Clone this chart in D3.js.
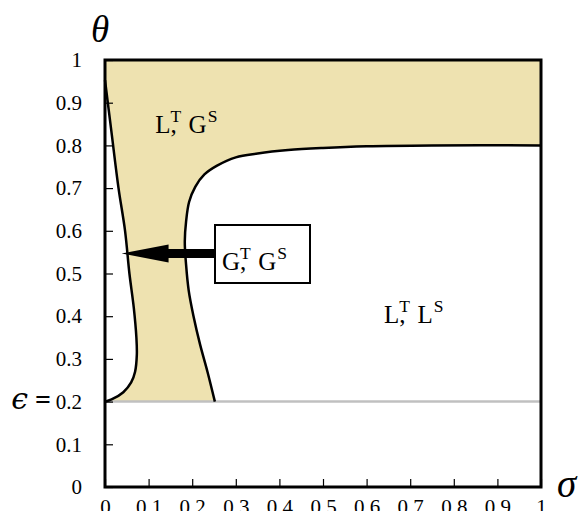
<!DOCTYPE html>
<html>
<head>
<meta charset="utf-8">
<script src="https://cdn.jsdelivr.net/npm/d3@7"></script>
<style>
  body { margin: 0; background: #fff; }
  text { font-family: "Liberation Serif", "DejaVu Serif", serif; fill: #000; }
</style>
</head>
<body>
<div id="chart"></div>
<script>
// phase boundaries, [sigma, theta]
const rightBoundary = [
    [1, 0.8], [0.75, 0.8], [0.6, 0.798], [0.5, 0.794], [0.42, 0.789],
    [0.35, 0.781], [0.3, 0.772], [0.256, 0.752], [0.228, 0.732], [0.207, 0.703],
    [0.193, 0.668], [0.186, 0.622], [0.183, 0.575], [0.186, 0.52], [0.192, 0.46],
    [0.203, 0.4], [0.218, 0.334], [0.235, 0.27], [0.252, 0.2]
];
const leftBoundary = [
    [0, 0.2], [0.015, 0.205], [0.042, 0.222], [0.06, 0.245], [0.069, 0.27],
    [0.073, 0.31], [0.072, 0.35], [0.066, 0.42], [0.056, 0.5], [0.046, 0.6],
    [0.031, 0.7], [0.015, 0.83], [0, 0.953]
];
const epsilon = 0.2;
const ticks = [0, 0.1, 0.2, 0.3, 0.4, 0.5, 0.6, 0.7, 0.8, 0.9, 1];

// region labels: [sigma, theta] of the baseline start
const regionLabels = [
    { at: [0.115, 0.83], parts: [['L', 'T'], ['G', 'S']] },
    { at: [0.64, 0.385], parts: [['L', 'T'], ['L', 'S']] }
];
const boxLabel = { parts: [['G', 'T'], ['G', 'S']] };
const arrow = { from: [0.253, 0.547], to: [0.038, 0.547] };

const width = 582, height = 511;
const x = d3.scaleLinear().domain([0, 1]).range([105, 541]);
const y = d3.scaleLinear().domain([0, 1]).range([487, 60]);

const svg = d3.select('#chart').append('svg')
    .attr('width', width)
    .attr('height', height);

const curve = d3.line()
    .x(d => x(d[0]))
    .y(d => y(d[1]))
    .curve(d3.curveCatmullRom.alpha(0.5));

// shaded L^T,G^S region
const rightPath = curve(rightBoundary);
const leftPath = curve(leftBoundary);
const fillPath = `M${x(0)},${y(1)}L${x(1)},${y(1)}L` + rightPath.slice(1) +
    'L' + leftPath.slice(1) + 'Z';
svg.append('path')
    .attr('d', fillPath)
    .style('fill', '#eee2b0')
    .style('stroke', 'none');

// epsilon line
svg.append('line')
    .attr('x1', x(0)).attr('x2', x(1))
    .attr('y1', y(epsilon)).attr('y2', y(epsilon))
    .style('stroke', '#c0c0c0')
    .style('stroke-width', 2.5);

// boundaries
[rightBoundary, leftBoundary].forEach(b => {
    svg.append('path')
        .attr('d', curve(b))
        .style('fill', 'none')
        .style('stroke', '#000')
        .style('stroke-width', 2.5);
});

// axes
const fmt = d => String(+d.toFixed(1));
const yAxis = d3.axisLeft(y)
    .tickValues(ticks)
    .tickSize(-8)
    .tickPadding(23)
    .tickFormat(fmt);
const gy = svg.append('g').attr('transform', `translate(${x(0)},0)`).call(yAxis);

const xAxis = d3.axisBottom(x)
    .tickValues(ticks)
    .tickSize(-8)
    .tickPadding(12)
    .tickFormat(fmt);
const gx = svg.append('g').attr('transform', `translate(0,${y(0)})`).call(xAxis);

[gx, gy].forEach(g => {
    g.attr('font-family', null);
    g.select('.domain').remove();
    g.selectAll('.tick line').style('stroke', '#000').style('stroke-width', 1.2);
    g.selectAll('.tick text')
        .style('font-family', '"Liberation Serif", serif')
        .style('font-size', '21px')
        .style('fill', '#000');
});

// frame
svg.append('rect')
    .attr('x', x(0)).attr('y', y(1))
    .attr('width', x(1) - x(0))
    .attr('height', y(0) - y(1))
    .style('fill', 'none')
    .style('stroke', '#000')
    .style('stroke-width', 3);

// epsilon label next to 0.2
const eps = svg.append('text')
    .attr('x', 51)
    .attr('y', y(epsilon) + 7)
    .attr('text-anchor', 'end');
eps.append('tspan')
    .text('\u03F5')
    .style('font-family', '"DejaVu Serif", serif')
    .style('font-style', 'italic')
    .style('font-size', '30px');
eps.append('tspan')
    .text(' =')
    .style('font-size', '28px')
    .style('font-weight', 'bold');

// axis titles
svg.append('text')
    .attr('x', 91).attr('y', 42)
    .style('font-style', 'italic')
    .style('font-size', '37px')
    .text('\u03B8');
svg.append('text')
    .attr('x', 557).attr('y', 497)
    .style('font-style', 'italic')
    .style('font-size', '39px')
    .text('\u03C3');

// label with a superscript stacked over the comma
function supLabel(g, px, py, parts, size) {
    const supSize = size * 0.7;
    const rise = size * 0.44;
    const commaW = size * 0.25;
    const t = g.append('text').attr('x', px).attr('y', py).style('font-size', size + 'px');
    parts.forEach((p, i) => {
        t.append('tspan').text(p[0])
            .attr('dy', i ? rise : 0)
            .attr('dx', i ? size * 0.3 : 0);
        if (i < parts.length - 1) {
            t.append('tspan').text(',');
            t.append('tspan').text(p[1])
                .attr('dx', -commaW)
                .attr('dy', -rise)
                .style('font-size', supSize + 'px');
        } else {
            t.append('tspan').text(p[1])
                .attr('dx', size * 0.04)
                .attr('dy', -rise)
                .style('font-size', supSize + 'px');
        }
    });
    return t;
}

regionLabels.forEach(l => {
    supLabel(svg, x(l.at[0]), y(l.at[1]), l.parts, 25);
});

// arrow
const ax0 = x(arrow.from[0]), ax1 = x(arrow.to[0]), ay = y(arrow.from[1]);
svg.append('path')
    .attr('d', `M${ax0},${ay - 4.5}L${ax1 + 47},${ay - 4.5}L${ax1 + 47},${ay - 9}` +
        `L${ax1},${ay}L${ax1 + 47},${ay + 9}L${ax1 + 47},${ay + 4.5}L${ax0},${ay + 4.5}Z`)
    .style('fill', '#000');

// boxed label
svg.append('rect')
    .attr('x', 215).attr('y', 225)
    .attr('width', 95).attr('height', 58)
    .style('fill', '#fff')
    .style('stroke', '#000')
    .style('stroke-width', 2);
supLabel(svg, 222, 270, boxLabel.parts, 25);
</script>
</body>
</html>
